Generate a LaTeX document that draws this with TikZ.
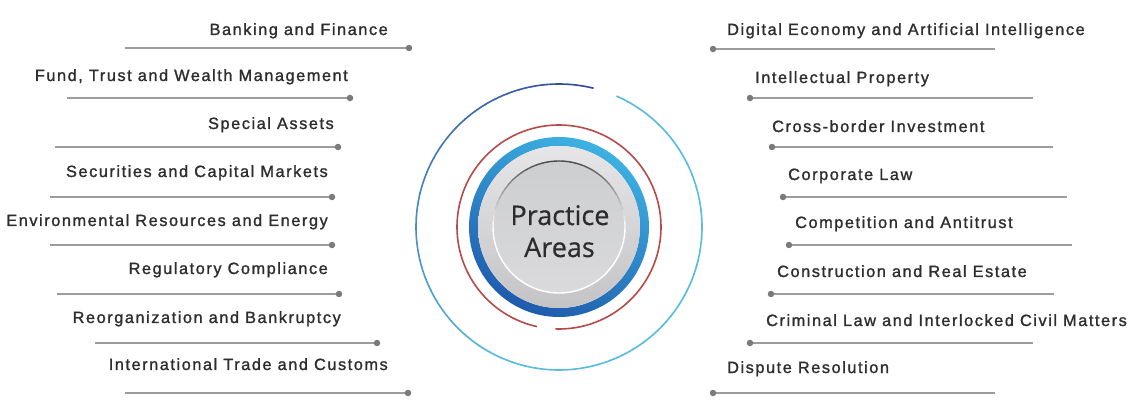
\documentclass[tikz,border=0pt]{standalone}
\usepackage{fontspec}
\setmainfont{Liberation Sans}
\newfontfamily\labelfont[LetterSpace=9.6,FakeBold=1.3]{Liberation Sans}
\newfontfamily\hubfont[FakeBold=0.6]{Open Sans}
\definecolor{labeltext}{HTML}{2E2E2E}
\definecolor{linegray}{HTML}{9C9C9C}
\definecolor{dotgray}{HTML}{7A7A7A}
\definecolor{ringnavy}{HTML}{2F4A9A}
\definecolor{ringcyan}{HTML}{58BCE0}
\definecolor{redring}{HTML}{B64A48}
\definecolor{bluelight}{HTML}{3DB2E2}
\definecolor{bluedark}{HTML}{1F5BAD}
\definecolor{disktop}{HTML}{E6E6E8}
\definecolor{diskbot}{HTML}{C4C4C7}
\definecolor{innertop}{HTML}{CDCED0}
\definecolor{innerbot}{HTML}{DADADC}
\definecolor{innerrim}{HTML}{4A4A4A}
\definecolor{hubtext}{HTML}{2C2C2C}
\newcommand{\pitemL}[7]{%
  \node[lleft] (L#1) at (#3,#4) {#2};
  \coordinate (Ls#1) at (#5,#7);
  \coordinate (Le#1) at (#6,#7);
  \draw[conn] (Ls#1) -- (Le#1);
  \node[enddot] (Ld#1) at (Le#1) {};}
\newcommand{\pitemR}[7]{%
  \node[lright] (R#1) at (#3,#4) {#2};
  \coordinate (Rs#1) at (#5,#7);
  \coordinate (Re#1) at (#6,#7);
  \draw[conn] (Rs#1) -- (Re#1);
  \node[enddot] (Rd#1) at (Rs#1) {};}
\begin{document}
\begin{tikzpicture}[x=1pt,y=-1pt,
  lbl/.style={font=\labelfont\fontsize{16.3}{18}\selectfont, text=labeltext, inner sep=0pt},
  lleft/.style={lbl, anchor=base east},
  lright/.style={lbl, anchor=base west},
  conn/.style={draw=linegray, line width=1.8pt},
  enddot/.style={circle, fill=dotgray, inner sep=0pt, minimum size=6.5pt},
  hub/.style={font=\hubfont\fontsize{27}{32}\selectfont, text=hubtext, inner sep=0pt, anchor=base}]
\useasboundingbox[fill=white] (0,0) rectangle (1136,406);

\pitemL{1}{Banking and Finance}{388}{35}{125}{409}{48}
\pitemL{2}{Fund, Trust and Wealth Management}{348}{81}{67}{350}{98}
\pitemL{3}{Special Assets}{334}{129}{55}{338}{147}
\pitemL{4}{Securities and Capital Markets}{328}{177}{50}{332}{197}
\pitemL{5}{Environmental Resources and Energy}{328}{226}{50}{332}{245}
\pitemL{6}{Regulatory Compliance}{328}{274}{57}{339}{294}
\pitemL{7}{Reorganization and Bankruptcy}{341}{323}{95}{377}{343}
\pitemL{8}{International Trade and Customs}{388}{370}{125}{408}{393}

\pitemR{1}{Digital Economy and Artificial Intelligence}{727}{35}{713}{995}{49}
\pitemR{2}{Intellectual Property}{755}{83}{750}{1033}{98}
\pitemR{3}{Cross-border Investment}{772}{132}{772}{1053}{147}
\pitemR{4}{Corporate Law}{788}{180}{783}{1067}{197}
\pitemR{5}{Competition and Antitrust}{795}{228}{789}{1072}{245}
\pitemR{6}{Construction and Real Estate}{777}{277}{771}{1054}{294}
\pitemR{7}{Criminal Law and Interlocked Civil Matters}{766}{326}{750}{1033}{343}
\pitemR{8}{Dispute Resolution}{727}{373}{713}{995}{393}

\begin{scope}[shift={(559,227)}, y=1pt]
  % outer ring with a gap near the top right
  \foreach \k in {0,...,69}{
    \pgfmathsetmacro{\sa}{76+5*\k}
    \pgfmathsetmacro{\ea}{\sa+5.3}
    \pgfmathsetmacro{\mixp}{min(100,100*\k/34)}
    \draw[line width=1.6pt, color=ringcyan!\mixp!ringnavy] (\sa:143) arc[start angle=\sa, end angle=\ea, radius=143];
  }
  % red ring with a gap near the bottom
  \draw[line width=1.6pt, redring] (-92:102) arc[start angle=-92, end angle=257.5, radius=102];
  % blue gradient ring
  \shade[even odd rule, left color=bluelight, right color=bluedark, shading angle=-25] (0,0) circle (90) (0,0) circle (81);
  % grey disk
  \shade[top color=disktop, bottom color=diskbot] (0,0) circle (81);
  \shade[top color=innertop, bottom color=innerbot] (0,0) circle (66);
  \foreach \k in {0,...,71}{
    \pgfmathsetmacro{\sa}{5*\k}
    \pgfmathsetmacro{\ea}{\sa+5.3}
    \pgfmathsetmacro{\mixp}{max(0,100*sin(\sa+2.5))}
    \draw[line width=1.4pt, color=innerrim!\mixp!white] (\sa:66) arc[start angle=\sa, end angle=\ea, radius=66];
  }
\end{scope}
\node[hub] (hubA) at (560,225) {Practice};
\node[hub] (hubB) at (559.5,257) {Areas};
\end{tikzpicture}
\end{document}
